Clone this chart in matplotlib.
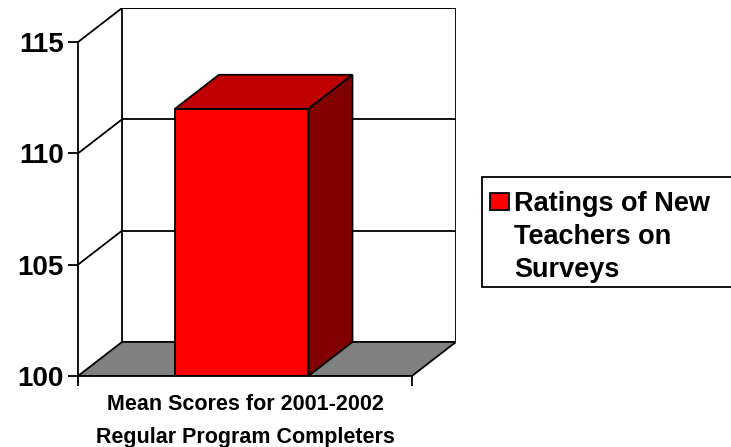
import numpy as np
import matplotlib
matplotlib.use("Agg")
from matplotlib import pyplot as plt
from matplotlib.patches import Polygon, Rectangle

plt.rcParams['font.family'] = ['Liberation Sans', 'DejaVu Sans']
plt.rcParams['font.weight'] = 'bold'

# data
categories = ['Mean Scores for 2001-2002', 'Regular Program Completers']
series_name = 'Ratings of New\nTeachers on\nSurveys'
values = [112.0]
yticks = [100, 105, 110, 115]

frontColor = '#FF0000'
topColor = '#C00000'
sideColor = '#800000'
floorColor = '#808080'

ymin, ymax = 100, 115
depth_x = 0.132   # 3d depth in x units (front plane = 0..1)
depth_y = 1.53    # 3d depth in y units
bar_left, bar_right = 0.29, 0.69

fig = plt.figure(figsize=(7.31, 4.47), dpi=100)
ax = fig.add_axes([78/731, (447-376)/447, 378/731, 368/447])
ax.set_xlim(0, 1 + depth_x)
ax.set_ylim(ymin, ymax + depth_y)
ax.set_facecolor('none')

# back wall + gridlines
ax.add_patch(Rectangle((depth_x, ymin + depth_y), 1, ymax - ymin, facecolor='white',
                       edgecolor='black', lw=1.3, zorder=1))
for v in yticks[1:]:
    ax.plot([depth_x, 1 + depth_x], [v + depth_y, v + depth_y], color='black', lw=1.3, zorder=2)
    ax.plot([0, depth_x], [v, v + depth_y], color='black', lw=1.3, zorder=2)

# floor
ax.add_patch(Polygon([(0, ymin), (1, ymin), (1 + depth_x, ymin + depth_y), (depth_x, ymin + depth_y)],
                     closed=True, facecolor=floorColor, edgecolor='black', lw=1.3, zorder=3))

# bar
for val in values:
    ax.add_patch(Rectangle((bar_left, ymin), bar_right - bar_left, val - ymin,
                           facecolor=frontColor, edgecolor='black', lw=1.3, zorder=5))
    ax.add_patch(Polygon([(bar_left, val), (bar_right, val), (bar_right + depth_x, val + depth_y),
                          (bar_left + depth_x, val + depth_y)], closed=True,
                         facecolor=topColor, edgecolor='black', lw=1.3, zorder=4))
    ax.add_patch(Polygon([(bar_right, ymin), (bar_right, val), (bar_right + depth_x, val + depth_y),
                          (bar_right + depth_x, ymin + depth_y)], closed=True,
                         facecolor=sideColor, edgecolor='black', lw=1.3, zorder=4))

# axes
for s in ['top', 'right']:
    ax.spines[s].set_visible(False)
ax.spines['left'].set_bounds(ymin, ymax)
ax.spines['bottom'].set_bounds(0, 1)
for s in ['left', 'bottom']:
    ax.spines[s].set_linewidth(1.3)
    ax.spines[s].set_zorder(6)
ax.set_yticks(yticks)
ax.set_yticklabels([str(t) for t in yticks], fontsize=20, fontweight='bold')
ax.tick_params(axis='y', length=7, width=1.3, pad=3)
ax.set_xticks([0, 1])
ax.set_xticklabels(['', ''])
ax.tick_params(axis='x', length=7, width=1.3)

# category label (two lines)
fig.text(245/731, (447-410)/447, categories[0], fontsize=15.5, fontweight='bold',
         ha='center', va='baseline')
fig.text(245/731, (447-443)/447, categories[1], fontsize=15.5, fontweight='bold',
         ha='center', va='baseline')

# legend box
fig.patches.append(Rectangle((482/731, (447-287)/447), 260/731, 110/447, transform=fig.transFigure,
                             facecolor='white', edgecolor='black', lw=1.3, figure=fig))
fig.patches.append(Rectangle((490/731, (447-210)/447), 19/731, 17/447, transform=fig.transFigure,
                             facecolor=frontColor, edgecolor='black', lw=1.3, figure=fig))
for i, line in enumerate(series_name.split('\n')):
    fig.text(514/731, (447-(211 + 33*i))/447, line, fontsize=19.5, fontweight='bold',
             ha='left', va='baseline')

fig.savefig('out.png', dpi=100)
